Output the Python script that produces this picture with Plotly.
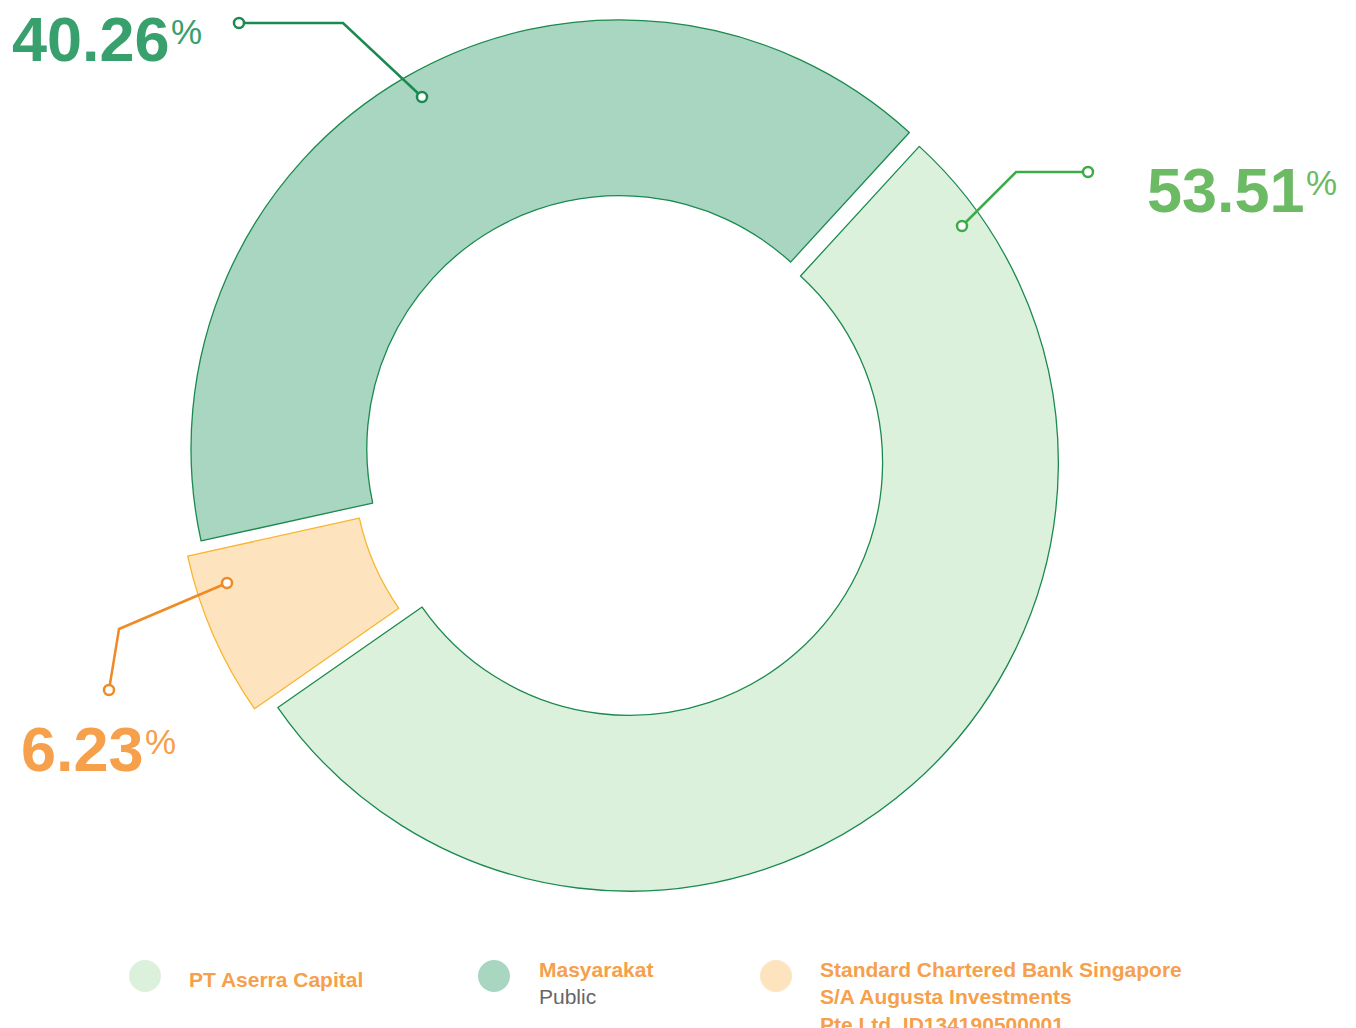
import plotly.graph_objects as go

# data (legend order)
labels = ["PT Aserra Capital", "Masyarakat", "Standard Chartered Bank Singapore"]
sublabels = ["", "Public", "S/A Augusta Investments<br>Pte.Ltd. ID134190500001"]
values = [53.51, 40.26, 6.23]

W, H = 1356, 1028
OFF = 8  # page body margin

FILL = ["#dcf1dc", "#a9d6c1", "#fde4bf"]
EDGE = ["#1a8a4e", "#1a8a4e", "#f8b52e"]
PCT_COLOR = ["#6cba64", "#37a06c", "#f6a04c"]
LEAD_COLOR = ["#3cab48", "#1a8a50", "#f08a24"]
LEGEND_TXT = "#f6a04c"


def px(x):
    return (x - OFF) / W


def py(y):
    return 1 - (y - OFF) / H


fig = go.Figure(go.Pie(
    labels=labels,
    values=values,
    hole=0.59,
    sort=False,
    direction="counterclockwise",
    rotation=42.5,
    pull=[0.02, 0.02, 0.045],
    textinfo="none",
    hoverinfo="label+percent",
    showlegend=False,
    marker=dict(colors=FILL, line=dict(color=EDGE, width=1.3)),
    domain=dict(x=[px(624 - 468), px(624 + 468)], y=[py(904), 1.0]),
))

# percentage labels with leader lines: (number x, baseline y, leader points)
pct_pos = [
    dict(x=1145, y=214, pts=[(1088, 172), (1016, 172), (962, 226)]),
    dict(x=10, y=63, pts=[(239, 23), (343, 23), (422, 97)]),
    dict(x=19, y=773, pts=[(109, 690), (119, 629), (227, 583)]),
]

shapes = []
annotations = []
for i, p in enumerate(pct_pos):
    num = f"{values[i]:.2f}"
    annotations.append(dict(
        x=px(p["x"]), y=py(p["y"] + 13), xref="paper", yref="paper",
        xanchor="left", yanchor="bottom", showarrow=False, text=f"<b>{num}</b>",
        font=dict(family="Liberation Sans, Arial", size=63, color=PCT_COLOR[i]),
    ))
    num_w = 63 * (0.556 * (len(num) - 1) + 0.278)
    annotations.append(dict(
        x=px(p["x"] + num_w + 1), y=py(p["y"] - 53), xref="paper", yref="paper",
        xanchor="left", yanchor="top", showarrow=False, text="%",
        font=dict(family="Liberation Sans, Arial", size=35, color=PCT_COLOR[i]),
    ))
    pts = p["pts"]
    path = "M " + " L ".join(f"{px(a)},{py(b)}" for a, b in pts)
    shapes.append(dict(type="path", xref="paper", yref="paper", path=path,
                       line=dict(color=LEAD_COLOR[i], width=2.5)))
    for a, b in (pts[0], pts[-1]):
        shapes.append(dict(type="circle", xref="paper", yref="paper",
                           x0=px(a - 5), x1=px(a + 5), y0=py(b + 5), y1=py(b - 5),
                           fillcolor="white", line=dict(color=LEAD_COLOR[i], width=2.5)))

# custom legend
legend_pos = [(145, 187), (494, 537), (776, 818)]
for i, (cx, tx) in enumerate(legend_pos):
    shapes.append(dict(type="circle", xref="paper", yref="paper",
                       x0=px(cx - 16), x1=px(cx + 16), y0=py(992), y1=py(960),
                       fillcolor=FILL[i], line=dict(width=0)))
    if sublabels[i] and i == 1:
        txt = (f"<b>{labels[i]}</b><br>"
               f"<span style='color:#666666;font-weight:normal'>{sublabels[i]}</span>")
    elif sublabels[i]:
        txt = f"<b>{labels[i]}<br>{sublabels[i]}</b>"
    else:
        txt = f"<b>{labels[i]}</b>"
    top = 966 if i == 0 else 956
    annotations.append(dict(
        x=px(tx), y=py(top), xref="paper", yref="paper",
        xanchor="left", yanchor="top", align="left", showarrow=False, text=txt,
        font=dict(family="Liberation Sans, Arial", size=21, color=LEGEND_TXT),
    ))

fig.update_layout(
    width=W, height=H,
    margin=dict(l=0, r=0, t=0, b=0),
    paper_bgcolor="white",
    plot_bgcolor="white",
    shapes=shapes,
    annotations=annotations,
)

fig.write_html("out.html")
